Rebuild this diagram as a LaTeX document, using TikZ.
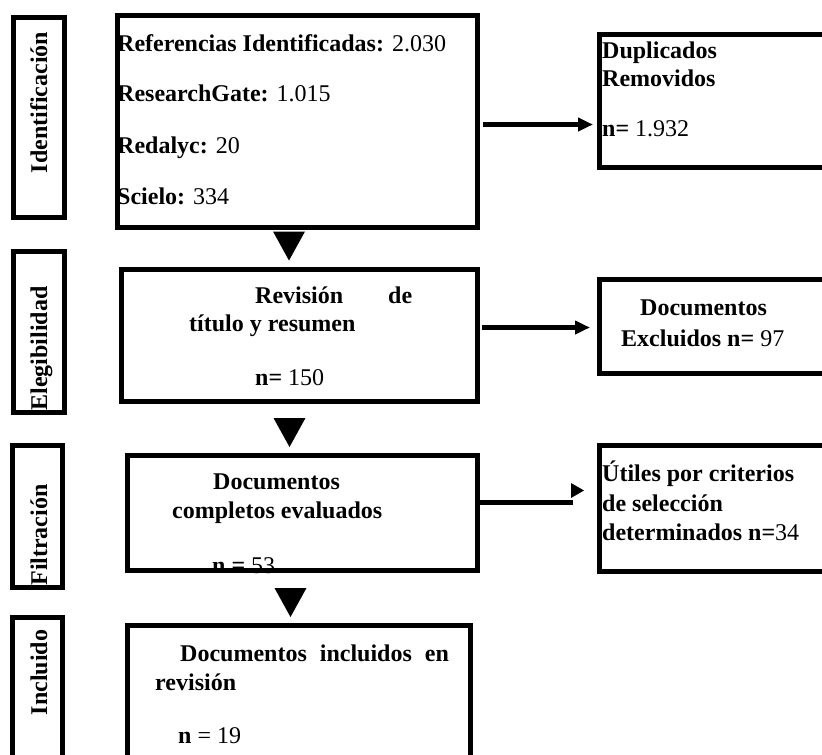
\documentclass[tikz,border=0pt]{standalone}
\usepackage{fontspec}
\setmainfont{Liberation Serif}
\usetikzlibrary{arrows.meta}

\tikzset{
  box/.style 2 args={draw,line width=5pt,minimum width=#1,minimum height=#2,inner sep=0pt},
  txt/.style={anchor=base west,inner sep=0pt},
  lbl/.style={rotate=90,anchor=base,inner sep=0pt,font=\fontsize{24}{28}\selectfont\bfseries},
  arr/.style={line width=4.5pt,-{Triangle[length=15pt,width=13pt]}}
}

\begin{document}
\begin{tikzpicture}[x=1pt,y=-1pt,font=\fontsize{24}{28}\selectfont]
            \useasboundingbox (0,0) rectangle (822,755);
            \clip (0,0) rectangle (822,755);
            % phase labels
            \node[box={51.5pt}{200pt}] (lab1) at (38.75,117.5) {};
            \node[box={51.5pt}{161pt}] (lab2) at (38.75,332) {};
            \node[box={50pt}{142pt}] (lab3) at (37.5,516.5) {};
            \node[box={50pt}{162.5pt}] (lab4) at (37.5,698.75) {};
            \node[lbl] (id) at (47,102.5) {Identificación};
            \node[lbl] (el) at (47,348.5) {Elegibilidad};
            \node[lbl] (fi) at (47,535) {Filtración};
            \node[lbl] (in) at (47,672.5) {Incluido};
            % main column
            \node[box={360pt}{212pt}] (b1) at (297.5,121) {};
            \node[box={356.5pt}{132pt}] (b2) at (299.25,335.5) {};
            \node[box={350pt}{115.5pt}] (b3) at (302.5,512.75) {};
            \node[box={343pt}{131.5pt}] (b4) at (299,691.25) {};
            % side column
            \node[box={230.5pt}{133.5pt}] (dup) at (714.75,100.75) {};
            \node[box={230.5pt}{93.5pt}] (exc) at (714.75,326.25) {};
            \node[box={230.5pt}{126pt}] (util) at (714.75,508.5) {};

            \node[txt] (t1a) at (117,51.5) {\textbf{Referencias Identificadas:} 2.030};
            \node[txt] (t1b) at (117,101.5) {\textbf{ResearchGate:} 1.015};
            \node[txt] (t1c) at (117,153) {\textbf{Redalyc:} 20};
            \node[txt] (t1d) at (117,204) {\textbf{Scielo:} 334};
            \node[txt] (d1) at (602,58.3) {\textbf{Duplicados}};
            \node[txt] (d2) at (602,86.7) {\textbf{Removidos}};
            \node[txt] (d3) at (602,136) {\textbf{n=} 1.932};
            \node[txt] (t2a) at (255,303) {\textbf{Revisión\hspace{45pt}de}};
            \node[txt] (t2b) at (189,331.7) {\textbf{título y resumen}};
            \node[txt] (t2c) at (255,385.7) {\textbf{n=} 150};
            \node[txt] (e1) at (640,315) {\textbf{Documentos}};
            \node[txt] (e2) at (621,346) {\textbf{Excluidos n=} 97};
            \node[txt] (t3a) at (213,489.3) {\textbf{Documentos}};
            \node[txt] (t3b) at (172,518.3) {\textbf{completos evaluados}};
            \node[txt] (t3c) at (212,573) {\textbf{n =} 53};
            \node[txt] (u1) at (602,481.7) {\textbf{Útiles por criterios}};
            \node[txt] (u2) at (602,511.7) {\textbf{de selección}};
            \node[txt] (u3) at (602,540) {\textbf{determinados n=}34};
            \node[txt] (t4a) at (180,661.7) {\textbf{Documentos\hspace{13pt}incluidos\hspace{13pt}en}};
            \node[txt] (t4b) at (155,690) {\textbf{revisión}};
            \node[txt] (t4c) at (178,743.3) {\textbf{n} = 19};
            % arrows
            \foreach \x/\y in {289/231.5,289.5/418,290.5/588}
                \fill (\x-16,\y) -- (\x+16,\y) -- (\x,\y+29) -- cycle;
            \draw[arr,shorten <=3pt,shorten >=4pt] (b1.east |- 0,124.5) -- (dup.west |- 0,124.5);
            \draw[arr,shorten <=2pt,shorten >=7pt] (b2.east |- 0,327.5) -- (exc.west |- 0,327.5);
            \coordinate (e3) at (573,502.5);
            \draw[line width=5pt] (b3.east |- 0,502.5) -- (e3);
            \fill (571,483) -- (584,490.5) -- (571,498) -- cycle;
        \end{tikzpicture}
\end{document}
